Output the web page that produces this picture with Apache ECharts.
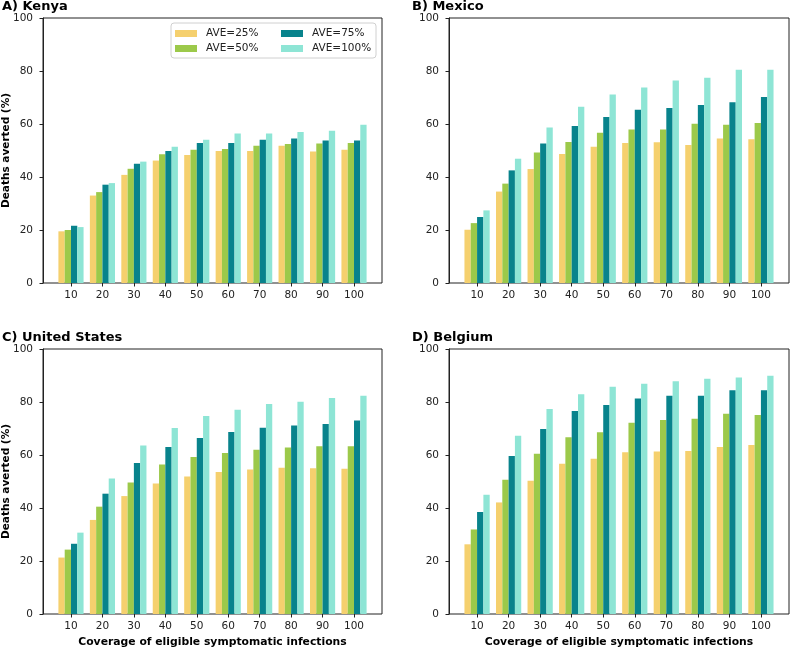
<!DOCTYPE html>
<html><head><meta charset="utf-8">
<script src="https://cdn.jsdelivr.net/npm/echarts@6/dist/echarts.min.js"></script>
<style>html,body{margin:0;padding:0;background:#fff}#c{width:790px;height:648px}</style>
</head><body><div id="c"></div>
<script>
const categories = ['10','20','30','40','50','60','70','80','90','100'];
const seriesNames = ['AVE=25%','AVE=50%','AVE=75%','AVE=100%'];
const panelTitles = ['A) Kenya','B) Mexico','C) United States','D) Belgium'];
const yTicks = [0,20,40,60,80,100];

const kenya25  = [19.5,33.0,40.8,46.2,48.3,49.8,49.8,51.8,49.6,50.3];
const kenya50  = [20.0,34.3,43.1,48.6,50.3,50.6,51.8,52.5,52.6,52.8];
const kenya75  = [21.6,37.1,45.0,49.8,52.8,52.8,54.1,54.5,53.8,53.8];
const kenya100 = [21.1,37.7,45.8,51.4,54.1,56.4,56.4,57.0,57.5,59.7];

const mexico25  = [20.1,34.5,43.0,48.7,51.4,52.8,53.1,52.1,54.5,54.2];
const mexico50  = [22.6,37.5,49.2,53.2,56.7,57.9,57.9,60.1,59.7,60.4];
const mexico75  = [24.9,42.5,52.6,59.2,62.6,65.4,66.0,67.2,68.2,70.2];
const mexico100 = [27.4,46.9,58.7,66.5,71.1,73.8,76.4,77.5,80.5,80.5];

const us25  = [21.3,35.5,44.5,49.2,51.9,53.6,54.5,55.2,55.0,54.8];
const us50  = [24.3,40.5,49.6,56.4,59.2,60.8,62.0,62.8,63.3,63.3];
const us75  = [26.5,45.4,57.0,63.0,66.4,68.7,70.3,71.1,71.7,73.0];
const us100 = [30.7,51.1,63.6,70.2,74.7,77.1,79.2,80.1,81.5,82.4];

const belgium25  = [26.3,42.1,50.3,56.7,58.6,61.0,61.3,61.5,63.0,63.8];
const belgium50  = [31.9,50.7,60.5,66.7,68.6,72.2,73.2,73.7,75.6,75.1];
const belgium75  = [38.5,59.6,69.8,76.6,78.9,81.3,82.4,82.4,84.4,84.4];
const belgium100 = [45.0,67.3,77.4,82.9,85.8,86.9,87.8,88.8,89.2,89.9];

const panelData = [
  [kenya25,kenya50,kenya75,kenya100],
  [mexico25,mexico50,mexico75,mexico100],
  [us25,us50,us75,us100],
  [belgium25,belgium50,belgium75,belgium100]
];
const colors = ['#F5D06E','#9CC94A','#08838C','#8EE5D5'];
const FONT = 'DejaVu Sans';
const TXT = '#222';

// frame boxes: [left, top, rightEdge, bottomEdge]
const frames = [[43,18,382,283],[449,18,789,283],[43,349,382,614],[449,349,789,614]];

const grids = [], xAxes = [], yAxes = [], series = [], titles = [];
frames.forEach((f,p) => {
  const [l,t,r,b] = f;
  const fw = r - l;
  const u = fw / 10.78;            // px per category
  const bl = l + (0.89 - 0.5) * u; // bar grid left
  const bw = 10 * u;
  grids.push({left:l, top:t, width:fw, height:b-t, show:true, borderColor:'#222', borderWidth:1,
    backgroundColor:'transparent', containLabel:false, outerBoundsMode:'none'});
  grids.push({left:bl, top:t, width:bw, height:b-t, show:false, containLabel:false, outerBoundsMode:'none'});
  const gi = 2*p, bi = 2*p+1;
  xAxes.push({gridIndex:gi, type:'value', min:0, max:1, show:false});
  yAxes.push({gridIndex:gi, type:'value', min:0, max:100, interval:20,
    axisLine:{show:true, lineStyle:{color:'#222', width:1}},
    axisTick:{show:true, length:3.5, lineStyle:{color:'#222'}},
    axisLabel:{fontFamily:FONT, fontSize:10.5, color:TXT, margin:10},
    splitLine:{show:false},
    name:(p===0||p===2)?'Deaths averted (%)':'', nameLocation:'middle', nameGap:31, nameMoveOverlap:false,
    nameTextStyle:{fontFamily:FONT, fontSize:10.5, fontWeight:'bold', color:'#000'}
  });
  xAxes.push({gridIndex:bi, type:'category', data:categories,
    axisLine:{show:false},
    axisTick:{show:true, alignWithLabel:true, length:3.5, lineStyle:{color:'#222'}},
    axisLabel:{fontFamily:FONT, fontSize:10.5, color:TXT, margin:7},
    name:(p>=2)?'Coverage of eligible symptomatic infections':'', nameLocation:'middle', nameGap:23, nameMoveOverlap:false,
    nameTextStyle:{fontFamily:FONT, fontSize:10.8, fontWeight:'bold', color:'#000'}
  });
  yAxes.push({gridIndex:bi, type:'value', min:0, max:100, show:false});
  panelData[p].forEach((vals,s) => {
    series.push({type:'bar', name:seriesNames[s], xAxisIndex:p*2+1, yAxisIndex:p*2+1,
      data:vals, itemStyle:{color:colors[s]}, barGap:'0%', barCategoryGap:'20%',
      emphasis:{disabled:true}, animation:false});
  });
  titles.push({text:panelTitles[p], left:(p%2===0)?2:412, top:(p<2)?0:331, padding:0,
    textStyle:{fontFamily:FONT, fontSize:13, fontWeight:'bold', color:'#000'}});
});

const legendCommon = {orient:'vertical', top:28, padding:0, icon:'rect', itemWidth:22, itemHeight:7,
  itemGap:4, selectedMode:false,
  textStyle:{fontFamily:FONT, fontSize:10.5, color:TXT, padding:[0,0,0,4]}};

const chart = echarts.init(document.getElementById('c'), null, {renderer:'canvas'});
chart.setOption({
  animation:false,
  backgroundColor:'#fff',
  title:titles,
  grid:grids, xAxis:xAxes, yAxis:yAxes, series:series,
  legend:[
    Object.assign({data:[seriesNames[0],seriesNames[1]], left:175}, legendCommon),
    Object.assign({data:[seriesNames[2],seriesNames[3]], left:281}, legendCommon)
  ],
  graphic:[{type:'rect', shape:{x:171, y:23, width:205, height:35, r:3},
    style:{fill:'rgba(255,255,255,0.8)', stroke:'#d0d0d0', lineWidth:1}, z:-1}]
});
</script></body></html>
